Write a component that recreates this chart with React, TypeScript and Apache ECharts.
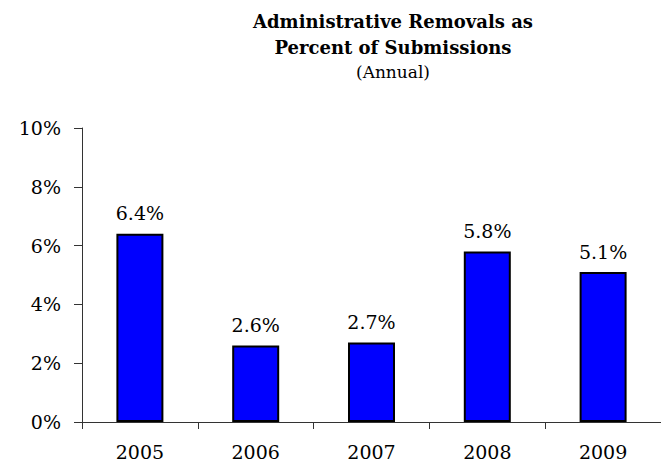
import React, { useEffect, useRef } from "react";
import * as echarts from "echarts";

const categories = ["2005", "2006", "2007", "2008", "2009"];
const values = [6.4, 2.6, 2.7, 5.8, 5.1];
const titleLines = ["Administrative Removals as", "Percent of Submissions"];
const subtitle = "(Annual)";

const FONT = "DejaVu Serif";

export default function App() {
  const ref = useRef<HTMLDivElement>(null);
  useEffect(() => {
    if (!ref.current) return;
    const chart = echarts.init(ref.current, null, { renderer: "svg" });
    chart.setOption({
      animation: false,
      backgroundColor: "#ffffff",
      textStyle: { fontFamily: FONT },
      title: [
        {
          text: titleLines.join("\n"),
          left: 388,
          top: 3,
          textAlign: "center",
          textStyle: { fontFamily: FONT, fontWeight: "bold", fontSize: 18, lineHeight: 26, color: "#000" },
        },
        {
          text: subtitle,
          left: 388,
          top: 58,
          textAlign: "center",
          textStyle: { fontFamily: FONT, fontWeight: "normal", fontSize: 17, color: "#000" },
        },
      ],
      grid: { left: 82, right: -4, top: 128, bottom: 52, containLabel: false },
      xAxis: {
        type: "category",
        data: categories,
        boundaryGap: true,
        axisLine: { lineStyle: { color: "#333", width: 1 } },
        axisTick: { show: true, alignWithLabel: false, length: 7, lineStyle: { color: "#333" } },
        axisLabel: { fontFamily: FONT, fontSize: 19, color: "#000", margin: 20 },
      },
      yAxis: {
        type: "value",
        min: 0,
        max: 10,
        interval: 2,
        splitLine: { show: false },
        axisLine: { show: true, lineStyle: { color: "#333", width: 1 } },
        axisTick: { show: true, length: 8, lineStyle: { color: "#333" } },
        axisLabel: { fontFamily: FONT, fontSize: 19, color: "#000", margin: 21, formatter: "{value}%" },
      },
      series: [
        {
          type: "bar",
          data: values,
          barWidth: 47,
          itemStyle: { color: "#0000FF", borderColor: "#000", borderWidth: 2 },
          label: {
            show: true,
            position: "top",
            distance: 11,
            fontFamily: FONT,
            fontSize: 19,
            color: "#000",
            formatter: (p: any) => p.value.toFixed(1) + "%",
          },
        },
      ],
    });
    return () => chart.dispose();
  }, []);
  return (
    <div
      ref={ref}
      style={{ position: "fixed", left: 0, top: 0, width: 661, height: 474, background: "#fff" }}
    />
  );
}
